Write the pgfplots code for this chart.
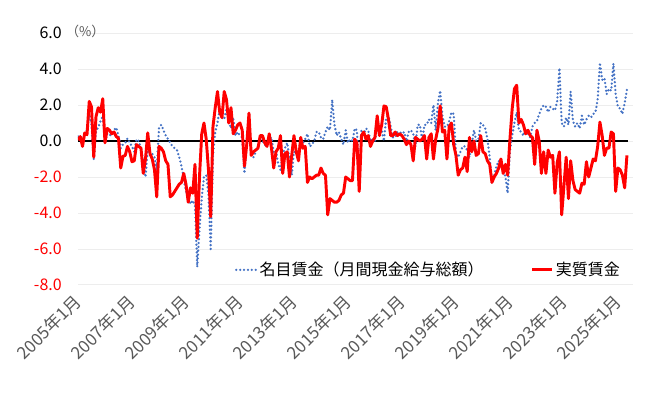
\documentclass[border=0pt]{standalone}
\usepackage{fontspec}
\setmainfont{Noto Sans CJK JP}
\usepackage{pgfplots}
\usepackage{pgfplotstable}
\pgfplotsset{compat=1.18}
\definecolor{nomblue}{HTML}{4472C4}
\definecolor{realred}{HTML}{FF0000}
\definecolor{gridgray}{HTML}{EDEDED}
\definecolor{labgray}{HTML}{595959}

% nominal wages (monthly, 2005/1 - 2025/5)
\pgfplotstableread[row sep=\\]{
v\\
0.25\\ 0.3\\ -0.2\\ 0.5\\ 0.6\\ 1.5\\ 0.9\\ -1.0\\ 0.55\\ 0.75\\ 1.1\\ 1.4\\
-0.1\\ 0.4\\ 0.3\\ 0.4\\ 0.6\\ 0.75\\ 0.3\\ -0.4\\ -0.2\\ -0.1\\ 0.15\\ -0.1\\
-0.3\\ -0.6\\ 0.1\\ 0.0\\ -0.4\\ -1.1\\ -2.0\\ -0.5\\ -0.8\\ -0.7\\ -0.9\\ -1.6\\
0.7\\ 0.9\\ 0.6\\ 0.3\\ 0.1\\ -0.1\\ -0.3\\ -0.4\\ -0.5\\ -0.9\\ -1.4\\ -2.1\\
-2.8\\ -3.1\\ -3.5\\ -3.3\\ -3.6\\ -7.0\\ -4.9\\ -3.2\\ -2.0\\ -1.9\\ -3.0\\ -6.0\\
-0.8\\ 0.5\\ 1.0\\ 1.8\\ 1.3\\ 1.2\\ 1.8\\ 1.1\\ 0.7\\ 1.3\\ 0.3\\ 0.5\\
0.3\\ 0.2\\ -1.8\\ -0.2\\ 0.5\\ -0.6\\ -0.9\\ -0.6\\ -0.3\\ 0.1\\ 0.0\\ -0.2\\
-0.3\\ 0.1\\ 0.2\\ -0.6\\ -0.5\\ -1.3\\ -1.6\\ -0.7\\ -0.4\\ -0.1\\ -1.0\\ -1.9\\
-0.6\\ -0.7\\ -0.5\\ 0.0\\ -0.1\\ 0.1\\ 0.4\\ -0.3\\ -0.2\\ 0.0\\ 0.5\\ 0.5\\
0.2\\ 0.1\\ 0.5\\ 0.8\\ 0.6\\ 2.3\\ 0.9\\ 0.3\\ 0.5\\ 0.1\\ -0.2\\ 0.6\\
-0.1\\ 0.1\\ 0.0\\ 0.7\\ 0.6\\ -2.4\\ 0.6\\ 0.4\\ 0.7\\ 0.6\\ 0.0\\ 0.1\\
0.0\\ 0.9\\ 0.4\\ 0.6\\ 0.0\\ 1.3\\ 1.4\\ 0.8\\ 0.2\\ 0.2\\ 0.5\\ 0.5\\
0.4\\ 0.5\\ 0.0\\ 0.5\\ 0.6\\ 0.4\\ -0.3\\ 0.9\\ 0.9\\ 0.0\\ 0.9\\ 0.9\\
1.2\\ 1.0\\ 2.0\\ 0.6\\ 2.1\\ 2.8\\ 1.4\\ 0.8\\ 0.8\\ 1.1\\ 1.6\\ 1.5\\
-0.7\\ -0.9\\ -0.6\\ -0.3\\ -0.3\\ -0.5\\ -0.9\\ -0.2\\ 0.6\\ 0.0\\ 0.1\\ 1.0\\
0.9\\ 0.7\\ 0.1\\ -0.9\\ -2.3\\ -1.9\\ -1.4\\ -1.1\\ -1.3\\ -1.6\\ -2.0\\ -2.9\\
-0.5\\ 0.3\\ 1.0\\ 1.6\\ 0.6\\ 0.5\\ 0.3\\ 0.6\\ 0.4\\ 0.2\\ 0.8\\ 1.0\\
1.1\\ 1.5\\ 1.8\\ 2.0\\ 1.9\\ 1.6\\ 1.9\\ 1.8\\ 1.7\\ 2.2\\ 4.05\\ 1.0\\
0.8\\ 1.3\\ 0.9\\ 2.75\\ 1.1\\ 0.8\\ 1.0\\ 0.7\\ 1.4\\ 0.9\\ 1.2\\ 1.4\\
1.3\\ 1.5\\ 1.6\\ 2.3\\ 4.35\\ 3.4\\ 3.5\\ 2.6\\ 2.9\\ 2.8\\ 4.3\\ 2.6\\
1.9\\ 1.8\\ 1.5\\ 2.1\\ 2.85\\
}\nomtab

% real wages (monthly, 2005/1 - 2025/5)
\pgfplotstableread[row sep=\\]{
v\\
0.05\\ 0.25\\ -0.3\\ 0.45\\ 0.35\\ 2.2\\ 1.9\\ -0.9\\ 1.35\\ 1.85\\ 1.6\\ 2.35\\
-0.1\\ 0.7\\ 0.6\\ 0.4\\ 0.5\\ 0.25\\ 0.15\\ -1.5\\ -0.85\\ -0.8\\ -0.3\\ -0.6\\
-1.15\\ -1.1\\ -0.2\\ -0.3\\ -0.4\\ -1.8\\ -1.0\\ 0.45\\ -0.7\\ -1.0\\ -1.6\\ -3.1\\
-0.3\\ -0.4\\ -0.6\\ -1.1\\ -1.3\\ -3.1\\ -3.0\\ -2.8\\ -2.6\\ -2.4\\ -2.3\\ -1.8\\
-2.4\\ -3.4\\ -2.6\\ -2.9\\ -1.3\\ -5.4\\ -2.0\\ 0.4\\ 1.0\\ 0.1\\ -1.6\\ -4.2\\
0.8\\ 1.85\\ 2.75\\ 1.6\\ 1.3\\ 2.75\\ 2.3\\ 1.0\\ 1.85\\ 0.4\\ 0.6\\ 0.9\\
1.0\\ 0.6\\ -1.4\\ -0.2\\ 1.55\\ -0.8\\ -0.6\\ -0.5\\ -0.4\\ 0.3\\ 0.3\\ -0.1\\
-0.3\\ 0.4\\ -0.4\\ -1.5\\ -0.6\\ -0.4\\ 0.3\\ -1.8\\ -0.7\\ -0.6\\ -2.0\\ -0.8\\
0.3\\ -0.6\\ -1.1\\ 0.2\\ -0.4\\ -0.3\\ -2.3\\ -2.0\\ -2.1\\ -2.0\\ -1.9\\ -1.9\\
-1.5\\ -1.8\\ -1.9\\ -4.1\\ -3.2\\ -3.3\\ -3.4\\ -3.4\\ -3.3\\ -3.0\\ -2.9\\ -2.0\\
-2.1\\ -2.2\\ -2.2\\ 0.1\\ -0.1\\ -2.8\\ 0.3\\ 0.5\\ 0.1\\ 0.3\\ -0.3\\ 0.0\\
0.2\\ 1.4\\ 0.3\\ 0.9\\ 1.95\\ 1.9\\ 1.2\\ 0.3\\ 0.3\\ 0.5\\ 0.3\\ 0.4\\
0.3\\ 0.1\\ -0.2\\ 0.0\\ -0.2\\ -1.1\\ 0.2\\ 0.1\\ 0.0\\ 0.1\\ 0.3\\ -1.0\\
0.2\\ 0.4\\ -1.0\\ 0.1\\ 0.7\\ 1.95\\ 0.5\\ 0.6\\ -1.0\\ 0.8\\ 1.0\\ -0.2\\
-0.8\\ -1.9\\ -1.6\\ -1.5\\ -0.9\\ -1.7\\ 0.2\\ -0.6\\ 0.0\\ -0.8\\ -0.7\\ 0.3\\
-0.6\\ -0.7\\ -1.1\\ -1.3\\ -2.3\\ -2.0\\ -1.8\\ -1.5\\ -1.0\\ -1.8\\ -1.3\\ -1.9\\
0.1\\ 1.8\\ 2.9\\ 3.1\\ 1.0\\ 1.2\\ 0.9\\ 0.4\\ 0.6\\ 0.3\\ 0.2\\ -1.3\\
0.6\\ 0.0\\ -1.8\\ -0.6\\ -1.8\\ -0.5\\ -0.9\\ -0.8\\ -2.9\\ -1.2\\ -0.6\\ -4.1\\
-2.5\\ -0.9\\ -3.2\\ -1.1\\ -2.2\\ -2.7\\ -2.8\\ -2.9\\ -2.35\\ -2.4\\ -1.15\\ -2.0\\
-1.5\\ -1.0\\ -1.1\\ -0.3\\ 1.05\\ 0.3\\ -0.8\\ -0.4\\ -0.4\\ 0.5\\ 0.4\\ -2.8\\
-1.5\\ -1.6\\ -1.9\\ -2.6\\ -0.8\\
}\realtab

\begin{document}
\begin{tikzpicture}
\useasboundingbox (0,0) rectangle (488.25pt,297.75pt);
\begin{axis}[
  at={(58.5pt,84pt)}, anchor=south west, scale only axis,
  width=416.25pt, height=189pt,
  xmin=0, xmax=246.7, ymin=-8, ymax=6,
  axis line style={draw=none},
  major tick length=0pt,
  ytick={-8,-6,-4,-2,0,2,4,6},
  yticklabels={\textcolor{realred}{-8.0},\textcolor{realred}{-6.0},\textcolor{realred}{-4.0},\textcolor{realred}{-2.0},0.0,2.0,4.0,6.0},
  ymajorgrids,
  major grid style={draw=gridgray, line width=0.75pt},
  xtick={0,24,...,240},
  xticklabels={2005年1月,2007年1月,2009年1月,2011年1月,2013年1月,2015年1月,2017年1月,2019年1月,2021年1月,2023年1月,2025年1月},
  x tick label style={yshift=-10pt, rotate=45, anchor=east, inner sep=0pt, text=labgray, font=\fontsize{12.8}{14}\selectfont},
  y tick label style={inner sep=0pt, xshift=-12pt, anchor=east, font=\fontsize{12}{14}\selectfont},
  legend columns=2,
  legend style={draw=none, fill=none, at={(0.6315,0.06)}, anchor=center,
    font=\fontsize{12}{14}\selectfont, inner sep=0pt,
    /tikz/every even column/.append style={column sep=34pt},
    nodes={inner sep=1.5pt}},
  legend cell align=left,
  legend image code/.code={\draw[#1] (0pt,0pt) -- (15pt,0pt);},
]
\addplot[black, line width=1.1pt, forget plot] coordinates {(0,0) (244.5,0)};
\addplot[nomblue, line width=1.9pt, line cap=round, line join=round, dash pattern=on 0pt off 2.9pt]
  table[x expr=\coordindex, y=v] {\nomtab};
\addlegendentry{名目賃金（月間現金給与総額）}
\addplot[realred, line width=2.2pt, line join=round]
  table[x expr=\coordindex, y=v] {\realtab};
\addlegendentry{実質賃金}
\end{axis}
\node[text=labgray, font=\fontsize{10}{11}\selectfont] at (64pt,274.5pt) {（\%）};
\end{tikzpicture}
\end{document}
